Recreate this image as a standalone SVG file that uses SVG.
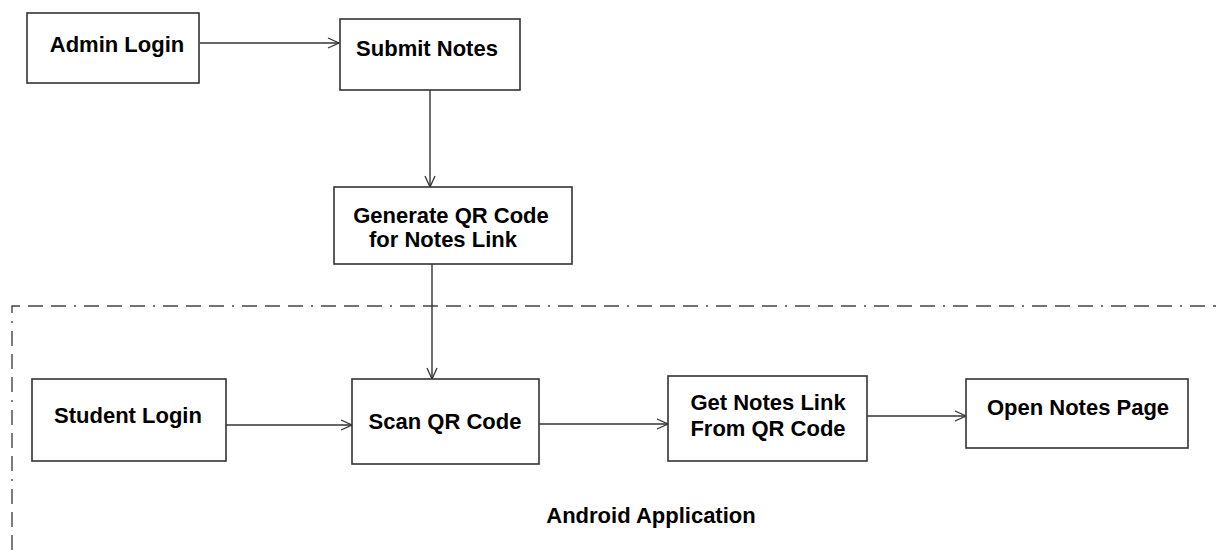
<svg xmlns="http://www.w3.org/2000/svg" width="1216" height="550" viewBox="0 0 1216 550">
<style>
.box{fill:#fff;stroke:#333;stroke-width:1.6}
.t{font-family:"Liberation Sans",Arial,sans-serif;font-weight:bold;font-size:22px;fill:#000;text-anchor:middle}
.c{fill:none;stroke:#333;stroke-width:1.4}
.b{fill:none;stroke:#444;stroke-width:1.4;stroke-dasharray:15 8 15 8 15 8 2 8}
</style>
<defs>
<marker id="ar" markerUnits="userSpaceOnUse" markerWidth="14" markerHeight="14" refX="12" refY="6" orient="auto" viewBox="0 0 14 12">
<path d="M1,1 L12,6 L1,11" fill="none" stroke="#333" stroke-width="1.3"/>
</marker>
</defs>
<rect width="1216" height="550" fill="#fff"/>
<g id="boundary">
<path class="b" d="M12,550 L12,306 L1216,306"/>
<text class="t" x="651" y="523">Android Application</text>
</g>
<g id="connectors">
<line class="c" x1="200" y1="43" x2="339" y2="43" marker-end="url(#ar)"/>
<line class="c" x1="430" y1="90" x2="430" y2="187" marker-end="url(#ar)"/>
<line class="c" x1="432" y1="264" x2="432" y2="379" marker-end="url(#ar)"/>
<line class="c" x1="226" y1="425" x2="352" y2="425" marker-end="url(#ar)"/>
<line class="c" x1="539" y1="424" x2="668" y2="424" marker-end="url(#ar)"/>
<line class="c" x1="867" y1="416" x2="966" y2="416" marker-end="url(#ar)"/>
</g>
<g id="admin-login">
<rect class="box" x="27" y="13" width="172" height="70"/>
<text class="t" x="117" y="52">Admin Login</text>
</g>
<g id="submit-notes">
<rect class="box" x="340" y="19" width="180" height="71"/>
<text class="t" x="427" y="56">Submit Notes</text>
</g>
<g id="generate-qr">
<rect class="box" x="334" y="187" width="238" height="77"/>
<text class="t" x="451" y="223">Generate QR Code</text>
<text class="t" x="443" y="247">for Notes Link</text>
</g>
<g id="student-login">
<rect class="box" x="32" y="379" width="194" height="82"/>
<text class="t" x="128" y="423">Student Login</text>
</g>
<g id="scan-qr">
<rect class="box" x="352" y="379" width="187" height="85"/>
<text class="t" x="445" y="429">Scan QR Code</text>
</g>
<g id="get-notes-link">
<rect class="box" x="668" y="376" width="199" height="85"/>
<text class="t" x="768" y="410">Get Notes Link</text>
<text class="t" x="768" y="436">From QR Code</text>
</g>
<g id="open-notes-page">
<rect class="box" x="966" y="379" width="222" height="69"/>
<text class="t" x="1078" y="415">Open Notes Page</text>
</g>
</svg>
